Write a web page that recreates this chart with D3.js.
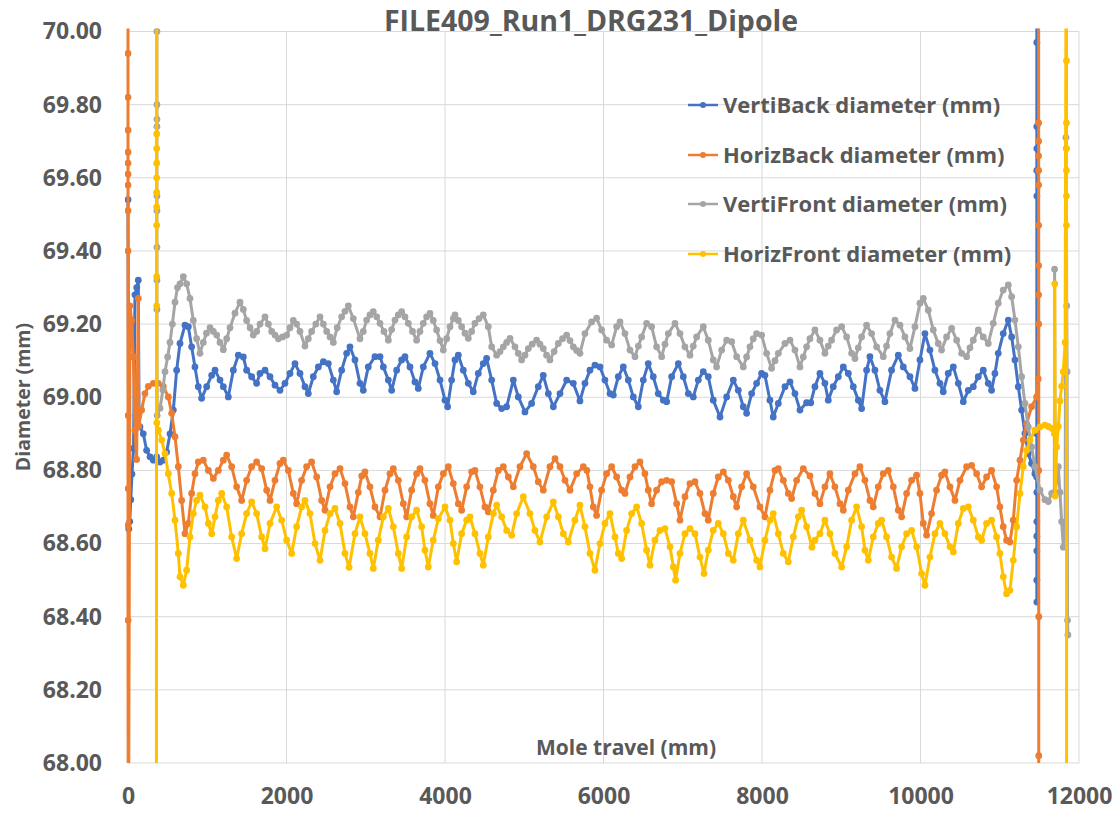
<!DOCTYPE html>
<html>
<head>
<meta charset="utf-8">
<script src="https://cdn.jsdelivr.net/npm/d3@7"></script>
<style>
  html, body { margin: 0; padding: 0; background: #ffffff; }
  svg { display: block; }
  text { font-family: "Open Sans", "DejaVu Sans", sans-serif; font-weight: 700; fill: #595959; }
</style>
</head>
<body>
<svg id="chart" width="1116" height="813"></svg>
<script>
// ---------------- DATA ----------------
const chartTitle = "FILE409_Run1_DRG231_Dipole";
const xAxisTitle = "Mole travel (mm)";
const yAxisTitle = "Diameter (mm)";
const xTicks = [0, 2000, 4000, 6000, 8000, 10000, 12000];
const yTicks = [68.0, 68.2, 68.4, 68.6, 68.8, 69.0, 69.2, 69.4, 69.6, 69.8, 70.0];
const seriesNames = ["VertiBack diameter (mm)", "HorizBack diameter (mm)", "VertiFront diameter (mm)", "HorizFront diameter (mm)"];

// [travel mm, diameter mm]
const vertiBack = [[0,69.54],[10,68.64],[22,68.66],[35,68.72],[50,68.79],[70,68.86],[88,69.28],[110,69.30],[130,69.32],[140,68.92],[151,68.919],[193,68.90],[235,68.855],[278,68.837],[320,68.828],[362,68.837],[404,68.823],[446,68.828],[488,68.85],[530,68.90],[572,68.965],[614,69.074],[656,69.147],[719,69.197],[761,69.193],[803,69.138],[845,69.083],[887,69.029],[929,68.997],[993,69.029],[1056,69.06],[1098,69.074],[1161,69.047],[1203,69.029],[1266,69.001],[1329,69.074],[1392,69.115],[1455,69.11],[1497,69.074],[1560,69.056],[1623,69.038],[1666,69.065],[1729,69.074],[1792,69.056],[1855,69.033],[1918,69.019],[1981,69.038],[2044,69.065],[2107,69.092],[2170,69.065],[2233,69.029],[2275,69.01],[2338,69.056],[2402,69.083],[2465,69.097],[2528,69.092],[2591,69.047],[2633,69.015],[2696,69.074],[2759,69.12],[2801,69.138],[2864,69.102],[2927,69.038],[2969,69.019],[3032,69.083],[3116,69.111],[3180,69.111],[3222,69.083],[3285,69.047],[3327,69.019],[3390,69.074],[3453,69.102],[3495,69.111],[3558,69.083],[3621,69.042],[3663,69.024],[3726,69.083],[3810,69.12],[3874,69.092],[3937,69.047],[4000,68.992],[4033,68.974],[4084,69.047],[4126,69.102],[4168,69.115],[4231,69.074],[4294,69.038],[4357,69.015],[4420,69.065],[4483,69.092],[4525,69.106],[4589,69.047],[4652,68.983],[4715,68.969],[4778,68.974],[4862,69.047],[4925,69.001],[5009,68.96],[5093,68.983],[5177,69.029],[5240,69.06],[5304,69.01],[5367,68.974],[5451,69.01],[5535,69.047],[5619,69.038],[5703,68.99],[5766,69.038],[5829,69.074],[5892,69.088],[5955,69.083],[6018,69.047],[6082,69.01],[6124,69.006],[6187,69.056],[6250,69.083],[6313,69.047],[6376,69.001],[6439,68.974],[6502,69.047],[6565,69.092],[6628,69.056],[6691,69.01],[6755,68.992],[6797,68.988],[6860,69.056],[6944,69.092],[7007,69.056],[7070,69.01],[7133,69.001],[7196,69.047],[7259,69.07],[7322,69.056],[7385,68.992],[7470,68.946],[7554,69.001],[7638,69.047],[7701,69.019],[7764,68.974],[7806,68.956],[7869,69.01],[7932,69.038],[7995,69.065],[8037,69.06],[8100,68.992],[8142,68.946],[8206,68.983],[8290,69.029],[8353,69.042],[8416,69.01],[8479,68.965],[8563,68.985],[8615,68.985],[8668,69.029],[8731,69.065],[8794,69.038],[8836,68.992],[8899,69.029],[8963,69.056],[9026,69.083],[9089,69.065],[9152,69.029],[9215,68.992],[9257,68.969],[9320,69.074],[9362,69.111],[9425,69.074],[9488,69.019],[9551,68.988],[9635,69.074],[9720,69.115],[9783,69.083],[9867,69.056],[9930,69.024],[9993,69.102],[10056,69.174],[10119,69.129],[10182,69.074],[10245,69.038],[10287,69.015],[10350,69.065],[10414,69.083],[10477,69.038],[10540,68.988],[10603,69.019],[10666,69.029],[10729,69.056],[10792,69.074],[10855,69.038],[10897,69.019],[10939,69.065],[10981,69.12],[11044,69.174],[11108,69.211],[11150,69.165],[11192,69.102],[11234,69.029],[11276,68.965],[11318,68.901],[11360,68.846],[11402,68.819],[11444,68.791],[11466,68.782],[11468,68.74],[11468,68.66],[11468,68.58],[11468,68.50],[11468,68.44],[11468,68.62],[11468,68.90],[11468,69.55],[11468,69.62],[11468,69.68],[11468,69.74],[11468,69.97],[11468,70.5]];

const horizBack = [[0,70.5],[0,69.94],[0,69.82],[0,69.73],[0,69.67],[0,69.64],[0,69.61],[0,69.58],[0,69.51],[0,69.40],[0,68.95],[0,68.75],[0,68.65],[0,68.39],[4,67.5],[25,69.25],[46,69.21],[67,69.11],[88,68.91],[109,68.83],[130,69.27],[135,68.92],[172,68.965],[214,69.01],[257,69.03],[320,69.038],[383,69.038],[446,69.029],[509,69.001],[551,68.956],[593,68.892],[635,68.81],[677,68.718],[719,68.627],[761,68.655],[803,68.737],[845,68.791],[887,68.823],[950,68.828],[1014,68.80],[1077,68.778],[1140,68.80],[1203,68.828],[1245,68.842],[1308,68.81],[1371,68.755],[1434,68.718],[1497,68.773],[1560,68.81],[1623,68.823],[1687,68.805],[1750,68.746],[1792,68.718],[1855,68.773],[1918,68.819],[1960,68.828],[2023,68.80],[2086,68.737],[2128,68.709],[2191,68.773],[2254,68.81],[2317,68.823],[2381,68.782],[2444,68.718],[2486,68.691],[2549,68.755],[2612,68.791],[2675,68.805],[2738,68.764],[2801,68.70],[2843,68.673],[2906,68.74],[2950,68.785],[2990,68.796],[3053,68.755],[3116,68.70],[3180,68.673],[3243,68.746],[3306,68.791],[3348,68.805],[3411,68.773],[3474,68.709],[3516,68.673],[3579,68.746],[3642,68.791],[3684,68.805],[3747,68.773],[3810,68.709],[3852,68.677],[3916,68.755],[3979,68.791],[4042,68.81],[4105,68.764],[4168,68.709],[4210,68.691],[4273,68.755],[4336,68.796],[4378,68.80],[4441,68.755],[4504,68.70],[4546,68.687],[4610,68.746],[4673,68.80],[4736,68.81],[4799,68.782],[4862,68.755],[4946,68.81],[5030,68.846],[5114,68.81],[5177,68.769],[5240,68.746],[5324,68.81],[5388,68.832],[5451,68.81],[5514,68.773],[5577,68.746],[5661,68.791],[5745,68.81],[5790,68.80],[5829,68.755],[5871,68.70],[5913,68.677],[5976,68.746],[6039,68.791],[6103,68.81],[6166,68.782],[6229,68.746],[6271,68.737],[6334,68.782],[6397,68.81],[6460,68.823],[6523,68.791],[6565,68.746],[6607,68.709],[6670,68.746],[6734,68.769],[6797,68.773],[6860,68.769],[6923,68.709],[6965,68.664],[7028,68.728],[7091,68.764],[7154,68.769],[7217,68.737],[7280,68.682],[7322,68.664],[7385,68.737],[7448,68.782],[7512,68.796],[7575,68.773],[7638,68.728],[7680,68.70],[7743,68.755],[7806,68.791],[7890,68.755],[7974,68.70],[8037,68.673],[8100,68.746],[8164,68.80],[8206,68.805],[8269,68.773],[8332,68.737],[8374,68.723],[8437,68.773],[8521,68.805],[8605,68.785],[8668,68.737],[8731,68.709],[8794,68.755],[8857,68.791],[8920,68.755],[8984,68.709],[9026,68.691],[9089,68.746],[9173,68.791],[9236,68.81],[9299,68.773],[9362,68.718],[9404,68.70],[9467,68.755],[9530,68.791],[9593,68.80],[9657,68.755],[9720,68.691],[9762,68.673],[9825,68.737],[9888,68.773],[9951,68.787],[9993,68.737],[10035,68.655],[10077,68.623],[10140,68.682],[10203,68.746],[10266,68.787],[10308,68.796],[10372,68.755],[10435,68.718],[10498,68.773],[10582,68.81],[10645,68.814],[10708,68.791],[10771,68.755],[10834,68.782],[10897,68.80],[10960,68.755],[11002,68.70],[11044,68.646],[11086,68.609],[11129,68.604],[11171,68.664],[11213,68.773],[11255,68.828],[11297,68.883],[11339,68.928],[11402,68.974],[11465,69.001],[11485,69.05],[11490,69.28],[11490,69.36],[11490,69.47],[11490,69.58],[11490,69.62],[11490,69.66],[11490,69.70],[11490,69.75],[11490,70.5],[11492,69.20],[11492,68.80],[11492,68.40],[11492,68.02],[11494,67.5]];

const vertiFront = [[365,70.5],[365,70.0],[365,69.80],[365,69.76],[365,69.74],[365,69.55],[365,69.51],[365,69.41],[365,69.32],[365,69.24],[368,68.95],[404,68.97],[440,69.02],[467,69.07],[500,69.11],[530,69.15],[560,69.20],[593,69.26],[625,69.30],[656,69.31],[698,69.33],[740,69.31],[782,69.27],[824,69.21],[866,69.16],[908,69.12],[950,69.15],[990,69.175],[1035,69.19],[1077,69.18],[1119,69.17],[1161,69.15],[1203,69.13],[1245,69.16],[1287,69.19],[1350,69.23],[1413,69.26],[1455,69.24],[1497,69.21],[1540,69.19],[1581,69.17],[1624,69.18],[1666,69.20],[1729,69.22],[1771,69.20],[1813,69.18],[1855,69.17],[1897,69.16],[1950,69.165],[2002,69.17],[2044,69.19],[2086,69.21],[2128,69.20],[2170,69.18],[2233,69.14],[2275,69.16],[2317,69.18],[2370,69.20],[2423,69.22],[2465,69.20],[2507,69.18],[2549,69.165],[2591,69.15],[2640,69.19],[2696,69.22],[2738,69.235],[2780,69.25],[2843,69.215],[2927,69.16],[2969,69.18],[3011,69.211],[3053,69.225],[3095,69.234],[3138,69.22],[3180,69.202],[3230,69.18],[3285,69.156],[3327,69.185],[3369,69.211],[3411,69.225],[3453,69.234],[3495,69.22],[3537,69.202],[3590,69.18],[3642,69.156],[3684,69.18],[3726,69.202],[3768,69.22],[3810,69.229],[3852,69.21],[3894,69.184],[3937,69.155],[3979,69.129],[4021,69.16],[4063,69.193],[4105,69.215],[4126,69.225],[4168,69.21],[4210,69.193],[4252,69.175],[4294,69.161],[4336,69.18],[4378,69.202],[4430,69.215],[4483,69.225],[4546,69.193],[4589,69.138],[4652,69.115],[4694,69.125],[4736,69.138],[4778,69.15],[4820,69.161],[4883,69.138],[4925,69.12],[4967,69.102],[5009,69.115],[5051,69.133],[5100,69.145],[5156,69.156],[5198,69.145],[5240,69.133],[5282,69.115],[5324,69.102],[5377,69.125],[5430,69.147],[5483,69.16],[5535,69.17],[5577,69.155],[5619,69.138],[5661,69.128],[5703,69.12],[5766,69.174],[5850,69.206],[5913,69.216],[5976,69.184],[6039,69.156],[6103,69.143],[6166,69.193],[6208,69.206],[6271,69.174],[6334,69.129],[6397,69.111],[6440,69.14],[6481,69.165],[6544,69.202],[6607,69.193],[6670,69.138],[6734,69.111],[6776,69.145],[6818,69.174],[6902,69.202],[6965,69.174],[7028,69.138],[7091,69.115],[7133,69.14],[7175,69.165],[7259,69.193],[7322,69.156],[7385,69.102],[7427,69.083],[7491,69.129],[7554,69.156],[7617,69.152],[7680,69.111],[7764,69.083],[7806,69.11],[7848,69.138],[7890,69.16],[7932,69.174],[7995,69.17],[8058,69.12],[8121,69.079],[8164,69.10],[8206,69.12],[8290,69.147],[8353,69.156],[8416,69.129],[8479,69.083],[8521,69.11],[8563,69.138],[8605,69.16],[8668,69.184],[8731,69.156],[8794,69.12],[8836,69.14],[8878,69.156],[8941,69.184],[9005,69.193],[9068,69.165],[9131,69.12],[9173,69.106],[9215,69.135],[9257,69.165],[9320,69.197],[9383,69.174],[9446,69.138],[9530,69.111],[9572,69.14],[9614,69.174],[9678,69.211],[9741,69.197],[9804,69.165],[9867,69.133],[9930,69.193],[9993,69.257],[10035,69.27],[10098,69.238],[10161,69.184],[10224,69.147],[10266,69.129],[10329,69.165],[10393,69.188],[10456,69.156],[10519,69.12],[10582,69.111],[10624,69.135],[10666,69.156],[10729,69.184],[10792,69.165],[10855,69.147],[10918,69.202],[10981,69.257],[11044,69.293],[11108,69.307],[11150,69.275],[11192,69.211],[11234,69.138],[11276,69.056],[11318,68.983],[11360,68.919],[11402,68.864],[11444,68.81],[11507,68.746],[11570,68.72],[11613,68.715],[11655,68.737],[11689,68.74],[11692,69.35],[11700,68.74],[11739,68.81],[11760,68.74],[11781,68.66],[11802,68.59],[11825,68.65],[11835,69.71],[11840,69.68],[11845,69.25],[11850,69.07],[11855,68.39],[11860,68.35]];

const horizFront = [[358,67.5],[362,70.5],[362,69.72],[362,69.68],[362,69.64],[362,69.60],[362,69.56],[362,69.52],[362,69.47],[362,69.33],[362,69.25],[364,68.93],[383,68.91],[425,68.883],[467,68.846],[509,68.791],[551,68.737],[593,68.664],[635,68.573],[656,68.509],[698,68.486],[740,68.527],[782,68.618],[824,68.682],[866,68.718],[908,68.732],[972,68.70],[1014,68.655],[1056,68.627],[1098,68.673],[1140,68.718],[1182,68.737],[1245,68.70],[1308,68.618],[1371,68.559],[1434,68.627],[1497,68.682],[1560,68.714],[1623,68.682],[1687,68.618],[1729,68.586],[1792,68.655],[1876,68.70],[1939,68.664],[2002,68.609],[2065,68.573],[2128,68.646],[2191,68.70],[2233,68.718],[2296,68.682],[2360,68.60],[2423,68.554],[2486,68.636],[2549,68.682],[2612,68.696],[2675,68.655],[2738,68.573],[2790,68.535],[2864,68.627],[2927,68.673],[2990,68.627],[3053,68.573],[3095,68.532],[3158,68.609],[3222,68.673],[3285,68.696],[3348,68.646],[3411,68.573],[3453,68.532],[3516,68.618],[3579,68.673],[3642,68.691],[3705,68.646],[3747,68.582],[3789,68.536],[3852,68.609],[3916,68.668],[4000,68.70],[4063,68.664],[4105,68.60],[4147,68.55],[4210,68.627],[4273,68.664],[4315,68.673],[4378,68.627],[4441,68.573],[4483,68.541],[4546,68.618],[4610,68.682],[4652,68.705],[4715,68.673],[4778,68.636],[4841,68.623],[4904,68.682],[4988,68.728],[5072,68.682],[5135,68.636],[5198,68.604],[5283,68.673],[5367,68.714],[5430,68.673],[5493,68.627],[5556,68.604],[5640,68.664],[5703,68.705],[5766,68.646],[5829,68.573],[5892,68.527],[5955,68.60],[6018,68.655],[6082,68.682],[6145,68.618],[6187,68.573],[6229,68.559],[6292,68.636],[6355,68.682],[6418,68.70],[6481,68.655],[6544,68.582],[6586,68.541],[6649,68.609],[6712,68.636],[6776,68.641],[6839,68.591],[6881,68.536],[6910,68.50],[6965,68.573],[7028,68.627],[7091,68.641],[7154,68.627],[7217,68.563],[7268,68.518],[7322,68.582],[7385,68.636],[7448,68.655],[7512,68.627],[7575,68.573],[7638,68.554],[7701,68.627],[7764,68.664],[7848,68.609],[7932,68.554],[7974,68.536],[8037,68.609],[8100,68.664],[8142,68.682],[8206,68.627],[8269,68.573],[8332,68.55],[8395,68.618],[8458,68.673],[8500,68.691],[8563,68.646],[8630,68.59],[8668,68.609],[8731,68.627],[8794,68.664],[8857,68.627],[8920,68.573],[9005,68.536],[9068,68.591],[9131,68.664],[9194,68.70],[9257,68.646],[9299,68.582],[9341,68.554],[9404,68.618],[9467,68.655],[9509,68.664],[9572,68.618],[9635,68.563],[9698,68.532],[9762,68.591],[9825,68.627],[9888,68.636],[9951,68.591],[10014,68.518],[10056,68.486],[10119,68.563],[10182,68.627],[10245,68.655],[10308,68.627],[10372,68.591],[10414,68.577],[10477,68.655],[10540,68.696],[10603,68.70],[10666,68.664],[10729,68.618],[10771,68.609],[10834,68.655],[10897,68.664],[10960,68.618],[11002,68.573],[11044,68.509],[11086,68.463],[11129,68.472],[11171,68.554],[11213,68.646],[11255,68.737],[11297,68.81],[11339,68.855],[11381,68.883],[11444,68.91],[11507,68.919],[11570,68.924],[11613,68.92],[11655,68.915],[11690,68.90],[11694,69.31],[11700,68.73],[11718,68.864],[11739,68.92],[11760,68.99],[11781,69.03],[11802,69.07],[11825,69.15],[11840,70.5],[11842,69.92],[11842,69.75],[11842,69.68],[11842,69.62],[11842,69.55],[11842,69.47],[11844,67.5]];

const seriesColors = ["#4472C4", "#ED7D31", "#A5A5A5", "#FFC000"];
const seriesData = [vertiBack, horizBack, vertiFront, horizFront];

// ---------------- LAYOUT ----------------
const W = 1116, H = 813;
const plot = { left: 128, right: 1079, top: 31.5, bottom: 763 };

const svg = d3.select("#chart");
svg.append("rect").attr("width", W).attr("height", H).attr("fill", "#ffffff");

const x = d3.scaleLinear().domain([0, 12000]).range([plot.left, plot.right]);
const y = d3.scaleLinear().domain([68, 70]).range([plot.bottom, plot.top]);

// gridlines
const grid = svg.append("g").attr("class", "grid");
grid.selectAll("line.h").data(yTicks).join("line")
  .attr("x1", plot.left).attr("x2", plot.right)
  .attr("y1", d => y(d)).attr("y2", d => y(d))
  .attr("stroke", "#d9d9d9").attr("stroke-width", 1);
grid.selectAll("line.v").data(xTicks).join("line")
  .attr("y1", plot.top).attr("y2", plot.bottom)
  .attr("x1", d => x(d)).attr("x2", d => x(d))
  .attr("stroke", "#d9d9d9").attr("stroke-width", 1);

// axes (labels only)
const yAxis = d3.axisLeft(y).tickValues(yTicks).tickFormat(d3.format(".2f")).tickSize(0).tickPadding(26);
const yG = svg.append("g").attr("transform", `translate(${plot.left},0)`).call(yAxis);
yG.select(".domain").remove();
yG.selectAll("text").style("font-size", "23px").attr("fill", "#595959")
  .style("font-family", '"Open Sans", sans-serif').style("font-weight", "700");

const xAxis = d3.axisBottom(x).tickValues(xTicks).tickFormat(d3.format("d")).tickSize(0).tickPadding(25);
const xG = svg.append("g").attr("transform", `translate(0,${plot.bottom})`).call(xAxis);
xG.select(".domain").remove();
xG.selectAll("text").style("font-size", "23px").attr("fill", "#595959")
  .style("font-family", '"Open Sans", sans-serif').style("font-weight", "700");

// clip
svg.append("clipPath").attr("id", "plotClip").append("rect")
  .attr("x", plot.left - 3).attr("y", plot.top - 3)
  .attr("width", plot.right - plot.left + 6).attr("height", plot.bottom - plot.top + 3);

const line = d3.line().x(d => x(d[0])).y(d => y(d[1]));
const dataG = svg.append("g").attr("clip-path", "url(#plotClip)");
seriesData.forEach((data, i) => {
  const g = dataG.append("g");
  g.append("path").datum(data).attr("d", line)
    .attr("fill", "none").attr("stroke", seriesColors[i])
    .attr("stroke-width", 3).attr("stroke-linejoin", "round");
  g.selectAll("circle").data(data.filter(d => d[1] >= 67.99 && d[1] <= 70.01)).join("circle")
    .attr("cx", d => x(d[0])).attr("cy", d => y(d[1])).attr("r", 3.4)
    .attr("fill", seriesColors[i]);
});

// title
svg.append("text").attr("x", 591).attr("y", 31).attr("text-anchor", "middle")
  .style("font-size", "28.5px").text(chartTitle);

// axis titles
svg.append("text").attr("transform", "translate(30,397) rotate(-90)").attr("text-anchor", "middle")
  .style("font-size", "19.5px").text(yAxisTitle);
svg.append("text").attr("x", 626).attr("y", 755).attr("text-anchor", "middle")
  .style("font-size", "21px").text(xAxisTitle);

// legend
const legendY = [105, 155, 204, 254];
const lg = svg.append("g");
seriesNames.forEach((name, i) => {
  const row = lg.append("g").attr("transform", `translate(0,${legendY[i]})`);
  row.append("line").attr("x1", 688).attr("x2", 718).attr("y1", 0).attr("y2", 0)
    .attr("stroke", seriesColors[i]).attr("stroke-width", 2.5);
  row.append("circle").attr("cx", 703).attr("cy", 0).attr("r", 3).attr("fill", seriesColors[i]);
  row.append("text").attr("x", 723).attr("y", 0).attr("dy", "0.35em")
    .style("font-size", "22px").text(name);
});
</script>
</body>
</html>
